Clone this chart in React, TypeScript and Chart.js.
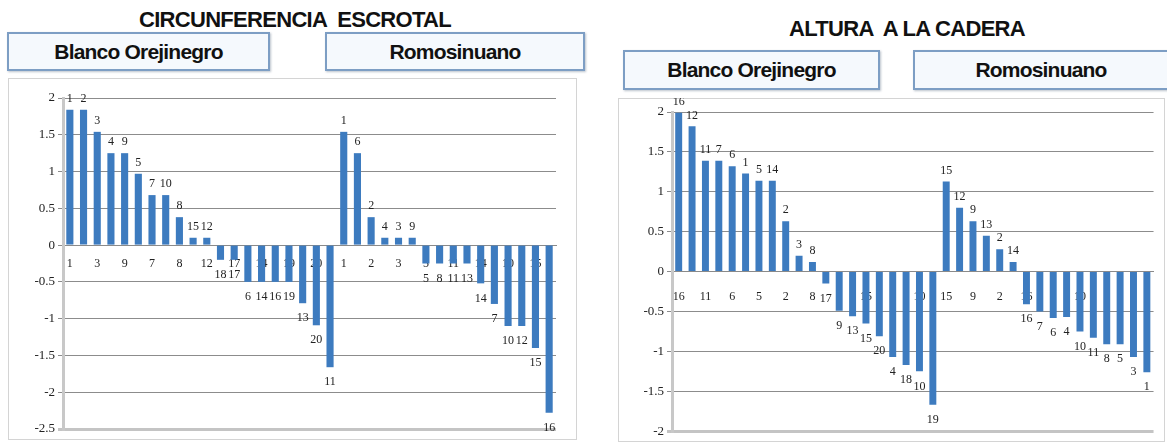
import React, { useEffect, useRef } from "react";
import { Chart, registerables } from "chart.js";

Chart.register(...registerables);

// ---- CIRCUNFERENCIA ESCROTAL ----
const ceBlancoIds = ["1", "2", "3", "4", "9", "5", "7", "10", "8", "15", "12", "18", "17", "6", "14", "16", "19", "13", "20", "11"];
const ceBlancoVals = [1.84, 1.84, 1.54, 1.25, 1.25, 0.97, 0.68, 0.68, 0.38, 0.1, 0.1, -0.2, -0.2, -0.5, -0.5, -0.5, -0.5, -0.79, -1.09, -1.66];
const ceRomoIds = ["1", "6", "2", "4", "3", "9", "5", "8", "11", "13", "14", "7", "10", "12", "15", "16"];
const ceRomoVals = [1.54, 1.25, 0.38, 0.1, 0.1, 0.1, -0.25, -0.25, -0.25, -0.25, -0.52, -0.8, -1.1, -1.1, -1.4, -2.28];

// ---- ALTURA A LA CADERA ----
const acBlancoIds = ["16", "12", "11", "7", "6", "1", "5", "14", "2", "3", "8", "17", "9", "13", "15", "20", "4", "18", "10", "19"];
const acBlancoVals = [1.99, 1.82, 1.39, 1.39, 1.32, 1.23, 1.14, 1.14, 0.63, 0.2, 0.12, -0.15, -0.49, -0.56, -0.65, -0.81, -1.07, -1.17, -1.25, -1.67];
const acRomoIds = ["15", "12", "9", "13", "2", "14", "16", "7", "6", "4", "10", "11", "8", "5", "3", "1"];
const acRomoVals = [1.13, 0.8, 0.63, 0.45, 0.28, 0.12, -0.41, -0.5, -0.58, -0.57, -0.75, -0.83, -0.91, -0.91, -1.07, -1.26];

const ceYMin = -2.5;
const ceYMax = 2;
const acYMin = -2;
const acYMax = 2;

const BAR_COLOR = "#3d7bbf";
const SERIF = "'Liberation Serif', 'DejaVu Serif', serif";
const SANS = "'Liberation Sans', Arial, sans-serif";

const valueLabels = {
  id: "valueLabels",
  afterDatasetsDraw(chart: any) {
    const ctx = chart.ctx;
    const ds = chart.data.datasets[0];
    const meta = chart.getDatasetMeta(0);
    ctx.save();
    ctx.font = `12px ${SERIF}`;
    ctx.fillStyle = "#222";
    ctx.textAlign = "center";
    ctx.textBaseline = "middle";
    meta.data.forEach((el: any, i: number) => {
      const v = ds.data[i];
      const txt = chart.data.labels[i];
      const y = v >= 0 ? el.y - 11 : el.y + 15;
      ctx.fillText(txt, el.x, y);
    });
    ctx.restore();
  },
};

function makeChart(
  canvas: HTMLCanvasElement,
  ids: string[],
  vals: number[],
  yMin: number,
  yMax: number,
  padding: any,
  xPad: number
) {
  return new Chart(canvas, {
    type: "bar",
    data: {
      labels: ids,
      datasets: [
        {
          data: vals,
          backgroundColor: BAR_COLOR,
          borderWidth: 0,
          barPercentage: 0.52,
          categoryPercentage: 1,
        },
      ],
    },
    options: {
      animation: false,
      responsive: false,
      maintainAspectRatio: false,
      layout: { padding },
      plugins: { legend: { display: false }, tooltip: { enabled: false } },
      scales: {
        x: {
          type: "category",
          position: { y: 0 } as any,
          grid: { display: false, drawTicks: false, tickLength: 0 },
          border: { display: true, color: "#8a8a8a", width: 1 },
          ticks: {
            autoSkip: false,
            maxRotation: 0,
            minRotation: 0,
            padding: xPad,
            color: "#222",
            font: { family: SERIF, size: 12 },
            callback: (_v: any, i: number) => (i % 2 === 0 ? ids[i] : ""),
          },
        },
        y: {
          min: yMin,
          max: yMax,
          afterFit(scale: any) {
            scale.width = 45;
          },
          grid: {
            color: (c: any) => (c.index === 0 ? "#c4c4c4" : "#8c8c8c"),
            lineWidth: (c: any) => (c.index === 0 ? 3 : 1),
            tickLength: 5,
          },
          border: { display: true, color: "#c8c8c8", width: 3 },
          ticks: {
            stepSize: 0.5,
            padding: 3,
            color: "#222",
            font: { family: SERIF, size: 13 },
            callback: (v: any) => String(Number(v)),
          },
        },
      },
    },
    plugins: [valueLabels],
  });
}

function ChartCanvas(props: {
  left: number;
  top: number;
  width: number;
  height: number;
  ids: string[];
  vals: number[];
  yMin: number;
  yMax: number;
  padding: any;
  xPad: number;
}) {
  const ref = useRef<HTMLCanvasElement | null>(null);
  useEffect(() => {
    if (!ref.current) return;
    const c = makeChart(ref.current, props.ids, props.vals, props.yMin, props.yMax, props.padding, props.xPad);
    return () => c.destroy();
  }, []);
  return (
    <div
      style={{
        position: "absolute",
        left: props.left,
        top: props.top,
        width: props.width,
        height: props.height,
        border: "1px solid #d4d4d4",
        boxSizing: "border-box",
        background: "#fff",
      }}
    >
      <canvas
        ref={ref}
        width={props.width}
        height={props.height}
        style={{ position: "absolute", left: -1, top: -1, width: props.width, height: props.height }}
      />
    </div>
  );
}

function Title(props: { text: string; left: number; top: number; width: number }) {
  return (
    <div
      style={{
        position: "absolute",
        left: props.left,
        top: props.top,
        width: props.width,
        textAlign: "center",
        fontFamily: SANS,
        fontWeight: "bold",
        fontSize: 22,
        letterSpacing: -0.7,
        lineHeight: "22px",
        color: "#111",
        whiteSpace: "pre",
      }}
    >
      {props.text}
    </div>
  );
}

function Box(props: { text: string; left: number; top: number; width: number; height: number }) {
  return (
    <div
      style={{
        position: "absolute",
        left: props.left,
        top: props.top,
        width: props.width,
        height: props.height,
        boxSizing: "border-box",
        border: "2px solid #7d9ec4",
        background: "#f5f9fd",
        boxShadow: "1px 1px 2px rgba(60,80,110,0.35)",
        display: "flex",
        alignItems: "center",
        justifyContent: "center",
        fontFamily: SANS,
        fontWeight: "bold",
        fontSize: 21,
        letterSpacing: -0.8,
        color: "#111",
      }}
    >
      {props.text}
    </div>
  );
}

export default function App() {
  const ceIds = [...ceBlancoIds, ...ceRomoIds];
  const ceVals = [...ceBlancoVals, ...ceRomoVals];
  const acIds = [...acBlancoIds, ...acRomoIds];
  const acVals = [...acBlancoVals, ...acRomoVals];
  return (
    <div
      style={{
        position: "fixed",
        left: 0,
        top: 0,
        width: 1167,
        height: 447,
        background: "#fff",
        overflow: "hidden",
      }}
    >
      <Title text={"CIRCUNFERENCIA  ESCROTAL"} left={120} top={9} width={350} />
      <Box text="Blanco Orejinegro" left={7} top={32} width={263} height={39} />
      <Box text="Romosinuano" left={325} top={32} width={260} height={39} />
      <ChartCanvas
        left={8}
        top={78}
        width={569}
        height={362}
        ids={ceIds}
        vals={ceVals}
        yMin={ceYMin}
        yMax={ceYMax}
        padding={{ left: 10, right: 21, top: 20, bottom: 11 }}
        xPad={12}
      />

      <Title text={"ALTURA  A LA CADERA"} left={757} top={18} width={300} />
      <Box text="Blanco Orejinegro" left={623} top={50} width={257} height={40} />
      <Box text="Romosinuano" left={913} top={50} width={256} height={40} />
      <ChartCanvas
        left={618}
        top={98}
        width={547}
        height={344}
        ids={acIds}
        vals={acVals}
        yMin={acYMin}
        yMax={acYMax}
        padding={{ left: 9, right: 10, top: 14, bottom: 9 }}
        xPad={18}
      />
    </div>
  );
}
